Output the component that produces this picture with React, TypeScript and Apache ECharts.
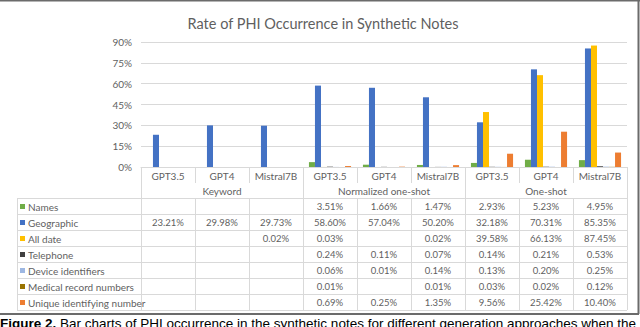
import React, { useEffect, useRef } from "react";
import * as echarts from "echarts";

const categories = ["GPT3.5", "GPT4", "Mistral7B", "GPT3.5", "GPT4", "Mistral7B", "GPT3.5", "GPT4", "Mistral7B"];
const groups = ["Keyword", "Normalized one-shot", "One-shot"];
const seriesNames = [
  "Names",
  "Geographic",
  "All date",
  "Telephone",
  "Device identifiers",
  "Medical record numbers",
  "Unique identifying number",
];
const names = [null, null, null, 3.51, 1.66, 1.47, 2.93, 5.23, 4.95];
const geographic = [23.21, 29.98, 29.73, 58.6, 57.04, 50.2, 32.18, 70.31, 85.35];
const allDate = [null, null, 0.02, 0.03, null, 0.02, 39.58, 66.13, 87.45];
const telephone = [null, null, null, 0.24, 0.11, 0.07, 0.14, 0.21, 0.53];
const deviceIds = [null, null, null, 0.06, 0.01, 0.14, 0.13, 0.2, 0.25];
const medicalRecord = [null, null, null, 0.01, null, 0.01, 0.03, 0.02, 0.12];
const uniqueIds = [null, null, null, 0.69, 0.25, 1.35, 9.56, 25.42, 10.4];
const seriesValues = [names, geographic, allDate, telephone, deviceIds, medicalRecord, uniqueIds];
const colors = ["#70AD47", "#4472C4", "#FFC000", "#404040", "#9DB7E2", "#997300", "#ED7D31"];
const yMax = 90;
const yInterval = 15;
const title = "Rate of PHI Occurrence in Synthetic Notes";

const W = 640;
const H = 327;
const GL = 141;
const GR = 627;
const GT = 42;
const GB = 167;
const TL = 17;
const ROW0 = 198;
const ROWH = 16;
const LINE = "#d9d9d9";
const TXT = "#5f5f5f";
const FONT = "Lato";

export default function App() {
  const ref = useRef<HTMLDivElement>(null);
  useEffect(() => {
    if (!ref.current) return;
    const chart = echarts.init(ref.current, null, { renderer: "svg" });
    const colW = (GR - GL) / categories.length;
    const graphics: any[] = [];
    const line = (x1: number, y1: number, x2: number, y2: number, color = LINE, w = 1) =>
      graphics.push({ type: "line", shape: { x1, y1, x2, y2 }, style: { stroke: color, lineWidth: w }, silent: true });
    const tableBottom = ROW0 + ROWH * seriesNames.length;
    for (let r = 0; r <= seriesNames.length; r++) {
      const y = ROW0 + ROWH * r + 0.5;
      line(TL, y, GR, y);
    }
    line(TL + 0.5, ROW0, TL + 0.5, tableBottom);
    for (let i = 0; i <= categories.length; i++) {
      const x = Math.round(GL + colW * i) + 0.5;
      if (i % 3 === 0) {
        line(x, GB, x, tableBottom);
      } else {
        line(x, GB, x, GB + 16);
        line(x, ROW0, x, tableBottom);
      }
    }
    groups.forEach((g, gi) => {
      graphics.push({
        type: "text",
        x: GL + colW * (gi * 3 + 1.5),
        y: 191,
        style: { text: g, fill: TXT, font: `10px ${FONT}`, textAlign: "center", textVerticalAlign: "middle" },
        silent: true,
      });
    });
    seriesNames.forEach((s, si) => {
      const cy = ROW0 + ROWH * si + ROWH / 2 + 0.5;
      graphics.push({
        type: "rect",
        shape: { x: 20, y: cy - 2.5, width: 5, height: 5 },
        style: { fill: colors[si] },
        silent: true,
      });
      graphics.push({
        type: "text",
        x: 28,
        y: cy,
        style: { text: s, fill: TXT, font: `10px ${FONT}`, textAlign: "left", textVerticalAlign: "middle" },
        silent: true,
      });
      seriesValues[si].forEach((v, ci) => {
        if (v === null) return;
        graphics.push({
          type: "text",
          x: GL + colW * (ci + 0.5),
          y: cy,
          style: {
            text: v.toFixed(2) + "%",
            fill: TXT,
            font: `9.5px ${FONT}`,
            textAlign: "center",
            textVerticalAlign: "middle",
          },
          silent: true,
        });
      });
    });
    line(0, 0.5, W, 0.5, "#6b6b6b", 2);
    line(638.5, 0, 638.5, 314, "#6b6b6b", 2);
    line(0, 314, 639, 314, "#6b6b6b", 2);
    graphics.push({
      type: "text",
      x: 0,
      y: 330,
      style: {
        text: "{b|Figure 2.} Bar charts of PHI occurrence in the synthetic notes for different generation approaches when the",
        fill: "#000",
        font: `13.5px "Liberation Sans"`,
        textAlign: "left",
        textVerticalAlign: "bottom",
        rich: {
          b: { fontWeight: "bold", fontSize: 13.5, fontFamily: "Liberation Sans", fill: "#000" },
        },
      },
      silent: true,
    });

    chart.setOption({
      animation: false,
      title: {
        text: title,
        left: 318,
        top: 11,
        textAlign: "center",
        textStyle: { fontFamily: FONT, fontSize: 14.5, fontWeight: "normal", color: TXT },
      },
      grid: { left: GL, right: W - GR, top: GT, bottom: H - GB },
      xAxis: {
        type: "category",
        data: categories,
        axisLine: { lineStyle: { color: LINE } },
        axisTick: { show: false },
        axisLabel: { color: TXT, fontFamily: FONT, fontSize: 10, margin: 4, interval: 0 },
      },
      yAxis: {
        type: "value",
        min: 0,
        max: yMax,
        interval: yInterval,
        axisLine: { show: false },
        axisTick: { show: false },
        splitLine: { lineStyle: { color: LINE } },
        axisLabel: { formatter: "{value}%", color: TXT, fontFamily: FONT, fontSize: 10, margin: 9 },
      },
      series: seriesNames.map((s, i) => ({
        name: s,
        type: "bar",
        data: seriesValues[i],
        barGap: "0%",
        barCategoryGap: "22%",
        itemStyle: { color: colors[i] },
      })),
      graphic: graphics,
    });
    return () => chart.dispose();
  }, []);
  return <div ref={ref} style={{ position: "fixed", left: 0, top: 0, width: W, height: H, background: "#fff" }} />;
}
